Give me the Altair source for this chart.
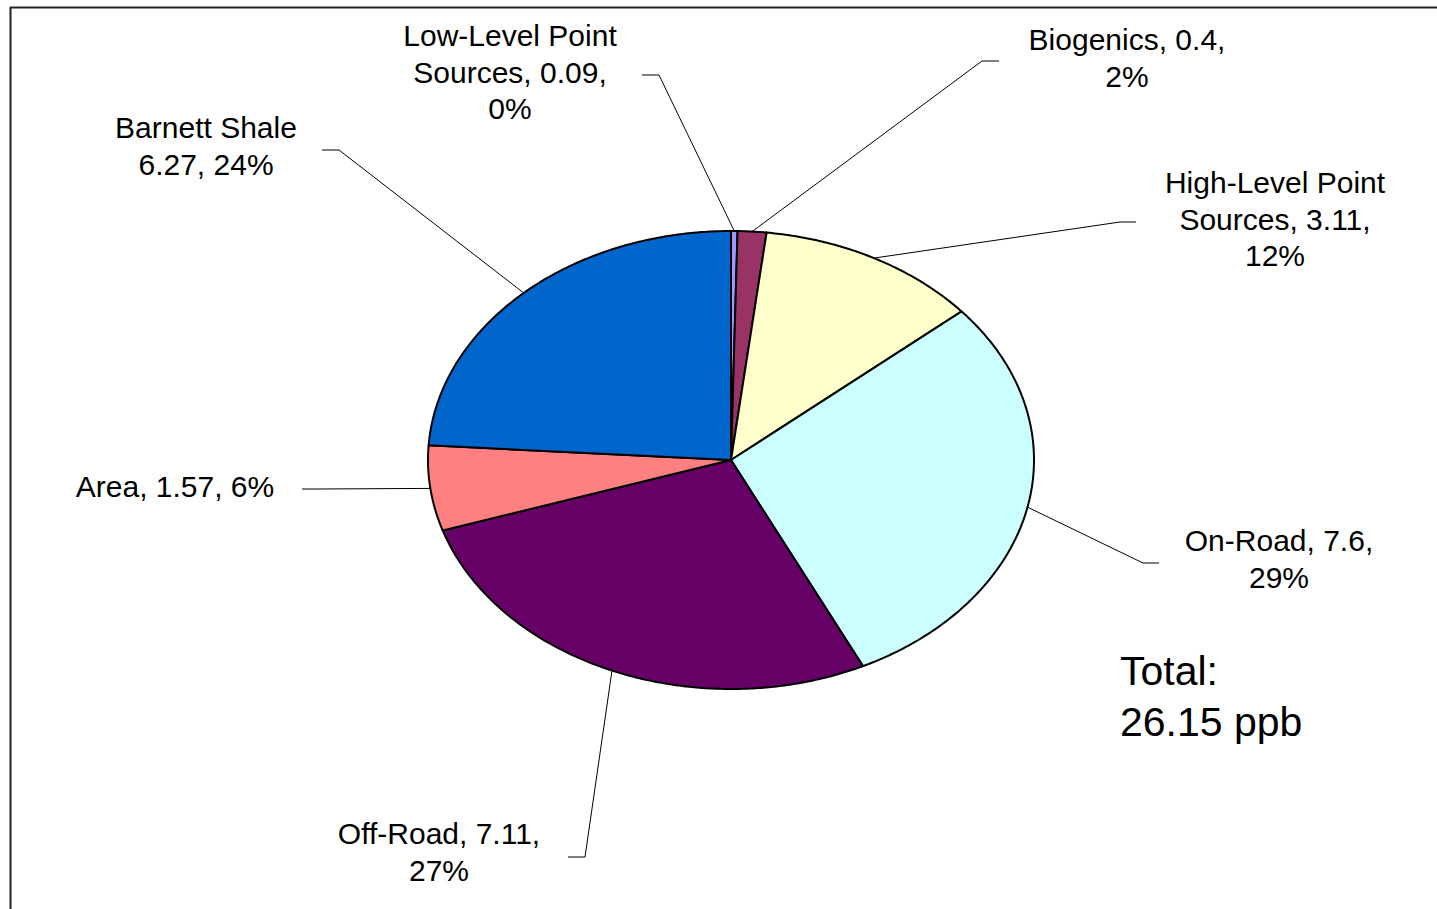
import altair as alt
import pandas as pd
import numpy as np

# ---- data ----
categories = ["Low-Level Point Sources", "Biogenics", "High-Level Point Sources",
              "On-Road", "Off-Road", "Area", "Barnett Shale"]
values = [0.09, 0.4, 3.11, 7.6, 7.11, 1.57, 6.27]
label_lines = [
    ["Low-Level Point", "Sources, 0.09,", "0%"],
    ["Biogenics, 0.4,", "2%"],
    ["High-Level Point", "Sources, 3.11,", "12%"],
    ["On-Road, 7.6,", "29%"],
    ["Off-Road, 7.11,", "27%"],
    ["Area, 1.57, 6%"],
    ["Barnett Shale", "6.27, 24%"],
]
total_lines = ["Total:", "26.15 ppb"]

# ---- style / layout ----
colors = ["#9999FF", "#993366", "#FFFFCC", "#CCFFFF", "#660066", "#FF8080", "#0066CC"]
W, H = 1437, 909
CX, CY, RX, RY = 731, 460, 303, 229
# centre of first line of each label
label_pos = [(510, 37), (1127, 41), (1275, 184), (1279, 542), (439, 835), (175, 488), (206, 129)]
leader_elbow = [(659, 75), (982, 61), (1120, 222), (1143, 563), (585, 857), (318, 489), (339, 150)]
leader_end = [(642, 75), (999, 61), (1136, 222), (1159, 563), (568, 857), (302, 489), (322, 150)]
FONT = "Liberation Sans"

# ---- build slice polygons from the values (elliptical pie, clockwise from 12 o'clock) ----
total = float(sum(values))
bounds = np.concatenate([[0.0], np.cumsum(values) / total])
rows = []
for i, cat in enumerate(categories):
    t0, t1 = bounds[i], bounds[i + 1]
    n = max(3, int((t1 - t0) * 720))
    rows.append(dict(cat=cat, k=0, x=CX, y=CY))
    for j, t in enumerate(np.linspace(t0, t1, n)):
        a = 2 * np.pi * t
        rows.append(dict(cat=cat, k=j + 1, x=CX + RX * np.sin(a), y=CY - RY * np.cos(a)))
slices = pd.DataFrame(rows)

# leader lines: from slice edge at mid-angle to elbow to label end
lrows = []
for i, cat in enumerate(categories):
    a = 2 * np.pi * (bounds[i] + bounds[i + 1]) / 2
    sx, sy = CX + RX * np.sin(a), CY - RY * np.cos(a)
    pts = [(sx, sy), leader_elbow[i], leader_end[i]]
    for k, (px, py) in enumerate(pts):
        lrows.append(dict(cat=cat, k=k, x=px, y=py))
leaders = pd.DataFrame(lrows)

labels = pd.DataFrame(dict(
    cat=categories,
    text=["\n".join(l) for l in label_lines],
    x=[p[0] for p in label_pos],
    y=[p[1] for p in label_pos],
))
total_df = pd.DataFrame(dict(text=["\n".join(total_lines)], x=[1120], y=[673]))

xs = alt.Scale(domain=[0, W], nice=False, zero=False)
ys = alt.Scale(domain=[0, H], reverse=True, nice=False, zero=False)
X = lambda: alt.X("x:Q", scale=xs, axis=None)
Y = lambda: alt.Y("y:Q", scale=ys, axis=None)

pie = alt.Chart(slices).mark_line(
    filled=True, interpolate="linear-closed", stroke="black", strokeWidth=2, strokeJoin="round"
).encode(
    x=X(), y=Y(),
    order="k:Q",
    detail="cat:N",
    color=alt.Color("cat:N", scale=alt.Scale(domain=categories, range=colors), legend=None),
)

leader = alt.Chart(leaders).mark_line(color="black", strokeWidth=1).encode(
    x=X(), y=Y(), order="k:Q", detail="cat:N"
)

text = alt.Chart(labels).mark_text(
    font=FONT, fontSize=30, lineBreak="\n", lineHeight=36.5,
    align="center", baseline="middle", color="black"
).encode(x=X(), y=Y(), text="text:N")

total_text = alt.Chart(total_df).mark_text(
    font=FONT, fontSize=41, lineBreak="\n", lineHeight=51,
    align="left", baseline="middle", color="black"
).encode(x=X(), y=Y(), text="text:N")

border_top = alt.Chart(total_df).mark_rule(color="#222222", strokeWidth=2).encode(
    x=alt.value(10), x2=alt.value(W), y=alt.value(7.5)
)
border_left = alt.Chart(total_df).mark_rule(color="#222222", strokeWidth=2).encode(
    x=alt.value(10.5), y=alt.value(7), y2=alt.value(H)
)

chart = alt.layer(pie, leader, text, total_text, border_top, border_left).properties(
    width=W, height=H, padding=0, autosize=alt.AutoSizeParams(type="none"),
    background="white"
).configure_view(stroke=None)

chart.save("out.html", embed_options={"renderer": "svg", "actions": False})
